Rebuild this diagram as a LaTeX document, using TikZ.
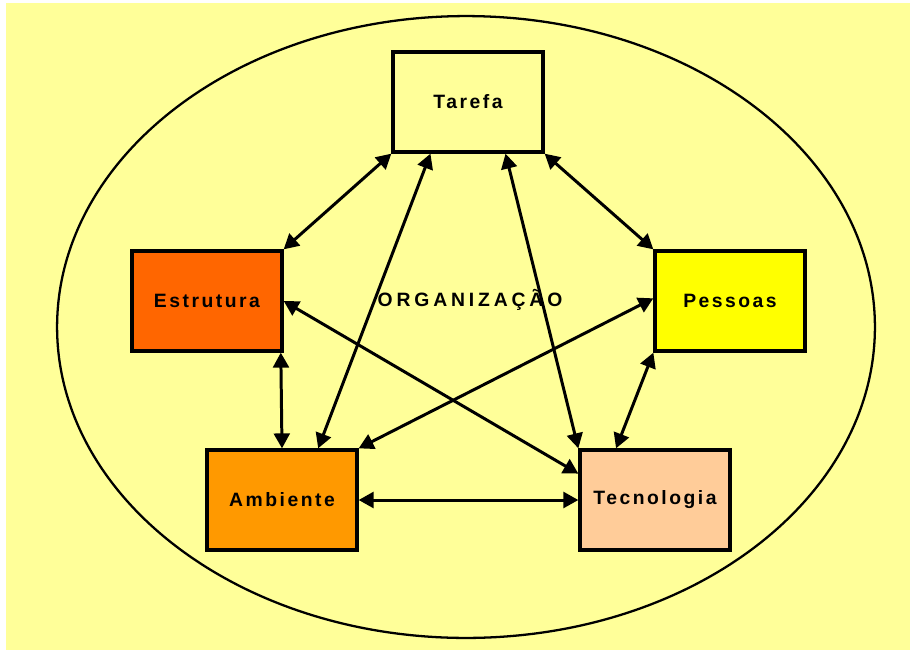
\documentclass[tikz,border=0pt]{standalone}
\usepackage{fontspec}
\setmainfont{Liberation Sans}
\newfontfamily\boxfont[LetterSpace=13]{Liberation Sans}
\newfontfamily\orgfont[LetterSpace=20]{Liberation Sans}
\usetikzlibrary{arrows.meta}
\definecolor{bgyellow}{HTML}{FFFF99}
\definecolor{estruturaor}{HTML}{FF6600}
\definecolor{pessoasye}{HTML}{FFFF00}
\definecolor{ambienteor}{HTML}{FF9900}
\definecolor{tecnologiape}{HTML}{FFCC99}
\begin{document}
\begin{tikzpicture}[x=0.02cm,y=-0.02cm,
  box/.style={draw,line width=1.9pt,minimum width=3cm,minimum height=2cm,
    font=\boxfont\bfseries\fontsize{11}{13}\selectfont},
  link/.style={{Triangle[length=8.5pt,width=9pt]}-{Triangle[length=8.5pt,width=9pt]},line width=1.7pt}]
  \useasboundingbox (0,0) rectangle (910,650);
  \fill[bgyellow] (6,3) rectangle (910,650);
  \draw[line width=1.3pt] (466,327) ellipse [x radius=8.18cm, y radius=6.22cm];
  % the five boxes
  \node[box,fill=bgyellow] (tarefa) at (468,102) {Tarefa};
  \node[box,fill=estruturaor] (estrutura) at (207,301) {Estrutura};
  \node[box,fill=pessoasye] (pessoas) at (730,301) {Pessoas};
  \node[box,fill=ambienteor] (ambiente) at (282,500) {Ambiente};
  \node[box,fill=tecnologiape] (tecnologia) at (655,500) {Tecnologia};
  \node[font=\orgfont\bfseries\fontsize{11}{13}\selectfont] (org) at (470,300) {ORGANIZAÇÃO};
  % links
  \foreach \a/\b in {tarefa.south west/estrutura.north east,
                     tarefa.234/ambiente.55,
                     tarefa.306/tecnologia.north west,
                     tarefa.south east/pessoas.north west,
                     estrutura.east/tecnologia.161,
                     pessoas.178/ambiente.north east,
                     estrutura.325/ambiente.north,
                     pessoas.south west/tecnologia.127,
                     ambiente.east/tecnologia.west}
    \draw[link] (\a) -- (\b);
\end{tikzpicture}
\end{document}
